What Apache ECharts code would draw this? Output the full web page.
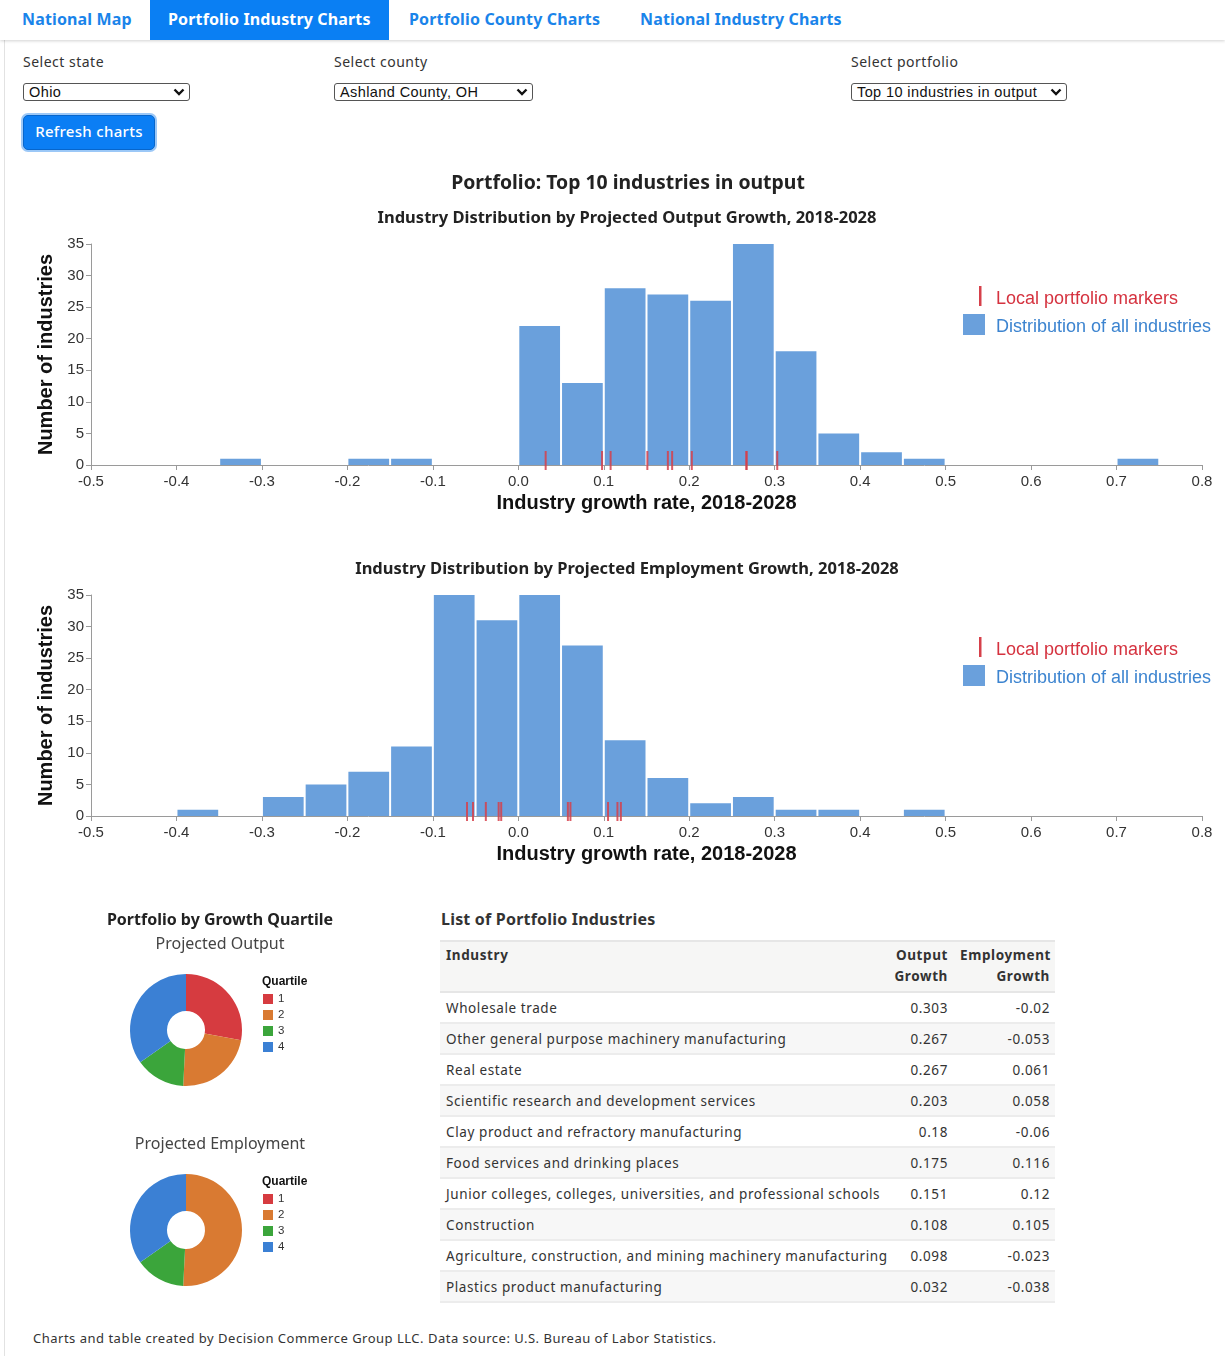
<!DOCTYPE html>
<html>
<head>
<meta charset="utf-8">
<title>Portfolio Industry Charts</title>
<script src="https://cdn.jsdelivr.net/npm/echarts@6/dist/echarts.min.js"></script>
<style>
  html, body { margin: 0; padding: 0; background: #fff; }
  body { width: 1225px; height: 1356px; position: relative; overflow: hidden;
         font-family: "Noto Sans", "Liberation Sans", sans-serif; color: #333; }
  .nav { position: absolute; left: 0; top: 0; width: 1225px; height: 40px; background: #fff;
         box-shadow: 0 1px 3px rgba(0,0,0,0.18); z-index: 2; }
  .tab { position: absolute; top: 0; height: 40px; line-height: 38px; font-weight: 700;
         font-size: 16px; letter-spacing: 0.15px; color: #1a84ea; white-space: nowrap; }
  .tab.active { background: #0a7ff3; color: #fff; padding: 0 18px; }
  .panel { position: absolute; left: 4px; top: 40px; width: 1221px; height: 1316px;
           border-left: 1px solid #e2e2e2; }
  .lbl { position: absolute; font-size: 14px; letter-spacing: 0.5px; color: #333; }
  .sel { position: absolute; height: 18px; border: 1px solid #555; border-radius: 3px;
         font-size: 14.5px; letter-spacing: 0.4px; line-height: 17px; padding: 0 0 0 5px; box-sizing: border-box;
         color: #111; background: #fff; white-space: nowrap; font-family: "Liberation Sans", sans-serif; }
  .sel svg { position: absolute; right: 4px; top: 3px; }
  .btn { position: absolute; left: 23px; top: 115px; width: 132px; height: 35px; box-sizing: border-box;
         background: #0b7ef4; border: 1px solid #0766cc; border-radius: 5px; color: #fff;
         font-size: 15px; letter-spacing: 0.3px; font-weight: 500; text-align: center; line-height: 30px;
         box-shadow: 0 0 0 2px #9cc8f7; }
  #hist { position: absolute; left: 0; top: 160px; width: 1225px; height: 720px; }
  #pies { position: absolute; left: 0; top: 890px; width: 430px; height: 420px; }
  .ttl { position: absolute; font-weight: 700; font-size: 16px; letter-spacing: 0.2px; color: #333; }
  table { position: absolute; left: 440px; top: 940px; width: 615px; border-collapse: collapse;
          table-layout: fixed; font-size: 13.5px; color: #333; letter-spacing: 0.6px; }
  th { font-weight: 700; background: #f6f6f5; vertical-align: top; padding: 3px 6px 4px 6px;
       border-top: 2px solid #e6e6e6; border-bottom: 2px solid #e6e6e6; line-height: 21px; white-space: nowrap; }
  td { padding: 0 6px; height: 29px; border-bottom: 2px solid #ececec; white-space: nowrap; }
  th:first-child, td:first-child { padding-right: 0; }
  th:last-child, td:last-child { padding-right: 5px; }
  tbody tr:nth-child(even) td { background: #f7f7f7; }
  .l { text-align: left; } .r { text-align: right; }
  .foot { position: absolute; left: 33px; top: 1329px; font-size: 13px; color: #333; letter-spacing: 0.5px; white-space: nowrap; }
</style>
</head>
<body>
<div class="nav">
  <div class="tab" style="left:22px">National Map</div>
  <div class="tab active" style="left:150px">Portfolio Industry Charts</div>
  <div class="tab" style="left:409px">Portfolio County Charts</div>
  <div class="tab" style="left:640px">National Industry Charts</div>
</div>
<div class="panel"></div>

<div class="lbl" style="left:23px;top:52px">Select state</div>
<div class="lbl" style="left:334px;top:52px">Select county</div>
<div class="lbl" style="left:851px;top:52px">Select portfolio</div>
<div class="sel" style="left:23px;top:83px;width:167px">Ohio<svg width="12" height="10" viewBox="0 0 12 10"><path d="M1.5 2.5 L6 7 L10.5 2.5" stroke="#111" stroke-width="2.4" fill="none"/></svg></div>
<div class="sel" style="left:334px;top:83px;width:199px">Ashland County, OH<svg width="12" height="10" viewBox="0 0 12 10"><path d="M1.5 2.5 L6 7 L10.5 2.5" stroke="#111" stroke-width="2.4" fill="none"/></svg></div>
<div class="sel" style="left:851px;top:83px;width:216px">Top 10 industries in output<svg width="12" height="10" viewBox="0 0 12 10"><path d="M1.5 2.5 L6 7 L10.5 2.5" stroke="#111" stroke-width="2.4" fill="none"/></svg></div>
<div class="btn">Refresh charts</div>

<div id="hist"></div>
<div id="pies"></div>

<div class="ttl" style="left:441px;top:908px">List of Portfolio Industries</div>
<table id="tbl">
  <colgroup><col style="width:444px"><col style="width:70px"><col style="width:101px"></colgroup>
  <thead><tr>
    <th class="l">Industry</th>
    <th class="r">Output<br>Growth</th>
    <th class="r">Employment<br>Growth</th>
  </tr></thead>
  <tbody></tbody>
</table>

<div class="foot">Charts and table created by Decision Commerce Group LLC. Data source: U.S. Bureau of Labor Statistics.</div>

<script>
// Portfolio industries and their projected growth rates, 2018-2028
const industries = [
  'Wholesale trade',
  'Other general purpose machinery manufacturing',
  'Real estate',
  'Scientific research and development services',
  'Clay product and refractory manufacturing',
  'Food services and drinking places',
  'Junior colleges, colleges, universities, and professional schools',
  'Construction',
  'Agriculture, construction, and mining machinery manufacturing',
  'Plastics product manufacturing'
];
const outputGrowth = [0.303, 0.267, 0.267, 0.203, 0.18, 0.175, 0.151, 0.108, 0.098, 0.032];
const employmentGrowth = [-0.02, -0.053, 0.061, 0.058, -0.06, 0.116, 0.12, 0.105, -0.023, -0.038];

// Histogram bin edges (width 0.05) and industry counts per bin, all industries
const binEdges = [-0.5, -0.45, -0.4, -0.35, -0.3, -0.25, -0.2, -0.15, -0.1, -0.05, 0,
                  0.05, 0.1, 0.15, 0.2, 0.25, 0.3, 0.35, 0.4, 0.45, 0.5, 0.55, 0.6,
                  0.65, 0.7, 0.75, 0.8];
const outputCounts = [0, 0, 0, 1, 0, 0, 1, 1, 0, 0, 22, 13, 28, 27, 26, 35, 18, 5, 2, 1, 0, 0, 0, 0, 1, 0];
const employmentCounts = [0, 0, 1, 0, 3, 5, 7, 11, 35, 31, 35, 27, 12, 6, 2, 3, 1, 1, 0, 1, 0, 0, 0, 0, 0, 0];

// Axis ticks
const xTicks = { min: -0.5, max: 0.8, step: 0.1 };
const yTicks = { min: 0, max: 35, step: 5 };

// Share of the portfolio in each national growth quartile
const quartiles = ['1', '2', '3', '4'];
const outputQuartileShare = [27.9, 22.9, 14.4, 34.8];
const employmentQuartileShare = [0, 50.8, 14.4, 34.8];

// ---------- table ----------
const tbody = document.querySelector('#tbl tbody');
industries.forEach((name, i) => {
  const tr = document.createElement('tr');
  tr.innerHTML = '<td class="l">' + name + '</td><td class="r">' + outputGrowth[i] +
                 '</td><td class="r">' + employmentGrowth[i] + '</td>';
  tbody.appendChild(tr);
});

// ---------- histograms ----------
const BAR = '#6aa0dc';
const RED = '#d6404a';
const AXIS = '#9a9a9a';
const CHART_FONT = '"Liberation Sans", Arial, sans-serif';
const TITLE_FONT = '"Noto Sans", "Liberation Sans", sans-serif';

function binData(counts) {
  return counts.map((c, i) => [binEdges[i], binEdges[i + 1], c]);
}

function renderBin(params, api) {
  const c = api.value(2);
  if (!c) return null;
  const p0 = api.coord([api.value(0), c]);
  const p1 = api.coord([api.value(1), 0]);
  return {
    type: 'rect',
    shape: { x: p0[0] + 1, y: p0[1], width: p1[0] - p0[0] - 2, height: p1[1] - p0[1] },
    style: { fill: BAR }
  };
}

function renderMarker(params, api) {
  const p = api.coord([api.value(0), 0]);
  return {
    type: 'rect',
    shape: { x: p[0] - 1, y: p[1] - 14, width: 2, height: 19 },
    style: { fill: RED, opacity: 0.85 }
  };
}

function xAxis(gridIndex) {
  return {
    type: 'value', gridIndex, min: xTicks.min, max: xTicks.max, interval: xTicks.step,
    name: 'Industry growth rate, 2018-2028', nameLocation: 'middle', nameGap: 28,
    nameTextStyle: { fontFamily: CHART_FONT, fontWeight: 'bold', fontSize: 20, color: '#111' },
    axisLine: { show: true, onZero: false, lineStyle: { color: AXIS, width: 1 } },
    axisTick: { show: true, length: 5, lineStyle: { color: AXIS } },
    axisLabel: { margin: 9, fontFamily: CHART_FONT, fontSize: 15, color: '#333',
                 formatter: v => (Math.abs(v) < 1e-9 ? 0 : v).toFixed(1) },
    splitLine: { show: false }
  };
}
function yAxis(gridIndex) {
  return {
    type: 'value', gridIndex, min: yTicks.min, max: yTicks.max, interval: yTicks.step,
    name: 'Number of industries', nameLocation: 'middle', nameGap: 32,
    nameTextStyle: { fontFamily: CHART_FONT, fontWeight: 'bold', fontSize: 20, color: '#111' },
    axisLine: { show: true, onZero: false, lineStyle: { color: AXIS, width: 1 } },
    axisTick: { show: true, length: 5, lineStyle: { color: AXIS } },
    axisLabel: { margin: 7, fontFamily: CHART_FONT, fontSize: 15, color: '#333' },
    splitLine: { show: false }
  };
}

function legendGraphics(top) {
  const font = '18px "Liberation Sans", Arial, sans-serif';
  return [
    { type: 'rect', left: 979, top: top - 1, shape: { width: 2.5, height: 20 }, style: { fill: RED } },
    { type: 'text', left: 996, top: top + 3, style: { text: 'Local portfolio markers', fill: '#d5323f', font } },
    { type: 'rect', left: 963, top: top + 27, shape: { width: 22, height: 21 }, style: { fill: BAR } },
    { type: 'text', left: 996, top: top + 31, style: { text: 'Distribution of all industries', fill: '#3c84d0', font } }
  ];
}

const hist = echarts.init(document.getElementById('hist'), null, { renderer: 'canvas' });
hist.setOption({
  animation: false,
  title: [
    { text: 'Portfolio: Top 10 industries in output', left: 628, top: 14, textAlign: 'center', padding: 0,
      textStyle: { fontFamily: TITLE_FONT, fontSize: 19.4, fontWeight: 'bold', color: '#222' } },
    { text: 'Industry Distribution by Projected Output Growth, 2018-2028', left: 627, top: 50, textAlign: 'center', padding: 0,
      textStyle: { fontFamily: TITLE_FONT, fontSize: 16.5, fontWeight: 'bold', color: '#222' } },
    { text: 'Industry Distribution by Projected Employment Growth, 2018-2028', left: 627, top: 401, textAlign: 'center', padding: 0,
      textStyle: { fontFamily: TITLE_FONT, fontSize: 16.5, fontWeight: 'bold', color: '#222' } }
  ],
  grid: [
    { left: 91, right: 23, top: 84, height: 221 },
    { left: 91, right: 23, top: 435, height: 221 }
  ],
  xAxis: [xAxis(0), xAxis(1)],
  yAxis: [yAxis(0), yAxis(1)],
  graphic: legendGraphics(127).concat(legendGraphics(478)),
  series: [
    { type: 'custom', name: 'Distribution of all industries', xAxisIndex: 0, yAxisIndex: 0,
      data: binData(outputCounts), encode: { x: [0, 1], y: 2 }, renderItem: renderBin },
    { type: 'custom', name: 'Local portfolio markers', xAxisIndex: 0, yAxisIndex: 0,
      data: outputGrowth.map(v => [v]), encode: { x: 0 }, renderItem: renderMarker, z: 3 },
    { type: 'custom', name: 'Distribution of all industries', xAxisIndex: 1, yAxisIndex: 1,
      data: binData(employmentCounts), encode: { x: [0, 1], y: 2 }, renderItem: renderBin },
    { type: 'custom', name: 'Local portfolio markers', xAxisIndex: 1, yAxisIndex: 1,
      data: employmentGrowth.map(v => [v]), encode: { x: 0 }, renderItem: renderMarker, z: 3 }
  ]
});

// ---------- quartile donuts ----------
const QCOLORS = ['#d63b40', '#d97a32', '#3ba53b', '#3b80d4'];
const pies = echarts.init(document.getElementById('pies'), null, { renderer: 'canvas' });
function pieSeries(values, cy) {
  return {
    type: 'pie', center: [186, cy], radius: [19, 56], startAngle: 90, clockwise: true,
    avoidLabelOverlap: false, label: { show: false }, labelLine: { show: false },
    itemStyle: { borderWidth: 0 }, emphasis: { disabled: true },
    data: quartiles.map((q, i) => ({ name: q, value: values[i], itemStyle: { color: QCOLORS[i] } }))
  };
}
function quartileLegend(top) {
  return {
    orient: 'vertical', left: 263, top: top, padding: 0, itemWidth: 10, itemHeight: 10, itemGap: 4,
    icon: 'rect', data: quartiles, selectedMode: false,
    textStyle: { fontFamily: CHART_FONT, fontSize: 11.5, color: '#333', padding: [0, 0, 0, 0] }
  };
}
pies.setOption({
  animation: false,
  color: QCOLORS,
  title: [
    { text: 'Portfolio by Growth Quartile', left: 220, top: 22, textAlign: 'center', padding: 0,
      textStyle: { fontFamily: TITLE_FONT, fontSize: 16, fontWeight: 'bold', color: '#222' } },
    { text: 'Projected Output', left: 220, top: 46, textAlign: 'center', padding: 0,
      textStyle: { fontFamily: TITLE_FONT, fontSize: 16, fontWeight: 'normal', color: '#444' } },
    { text: 'Projected Employment', left: 220, top: 246, textAlign: 'center', padding: 0,
      textStyle: { fontFamily: TITLE_FONT, fontSize: 16, fontWeight: 'normal', color: '#444' } },
    { text: 'Quartile', left: 262, top: 86, padding: 0,
      textStyle: { fontFamily: CHART_FONT, fontSize: 12, fontWeight: 'bold', color: '#111' } },
    { text: 'Quartile', left: 262, top: 286, padding: 0,
      textStyle: { fontFamily: CHART_FONT, fontSize: 12, fontWeight: 'bold', color: '#111' } }
  ],
  legend: [quartileLegend(103), quartileLegend(303)],
  series: [pieSeries(outputQuartileShare, 140), pieSeries(employmentQuartileShare, 340)]
});
</script>
</body>
</html>
